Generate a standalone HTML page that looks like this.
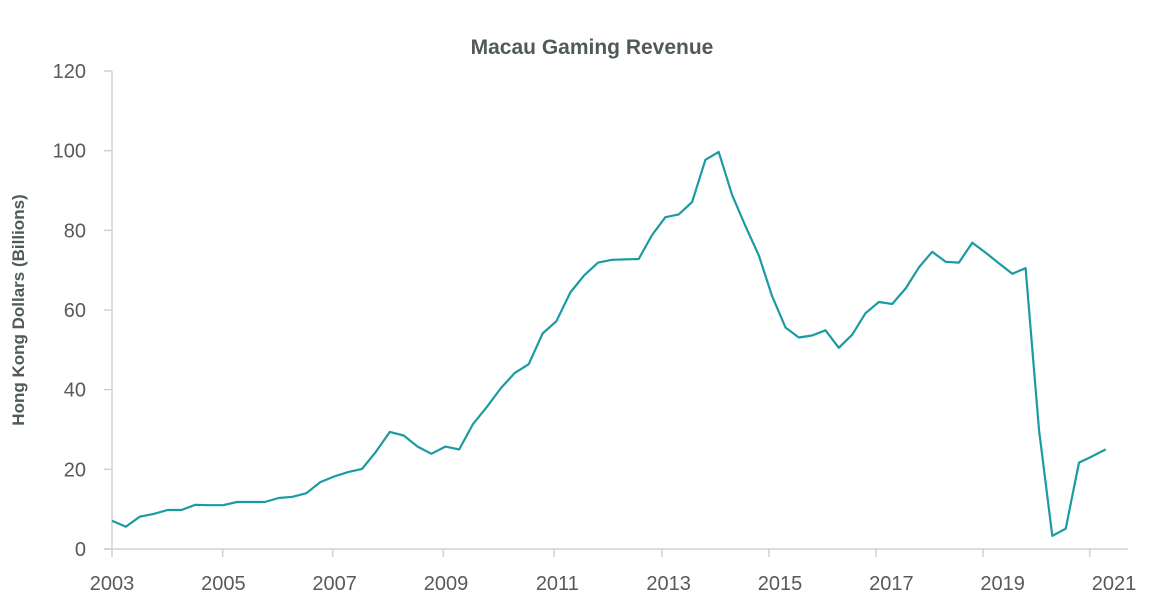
<!DOCTYPE html>
<html><head><meta charset="utf-8"><style>
body{margin:0;background:#fff;}
svg{display:block;font-family:"Liberation Sans",sans-serif;}
</style></head><body>
<svg id="chart" width="1164" height="613" viewBox="0 0 1164 613">
<text x="592" y="54" text-anchor="middle" font-size="21" font-weight="bold" fill="#505a56">Macau Gaming Revenue</text>
<text transform="translate(24,310) rotate(-90)" text-anchor="middle" font-size="17" font-weight="bold" fill="#505a56">Hong Kong Dollars (Billions)</text>
<g id="axes"></g>
<g id="plot"></g>
</svg>
<script>
const values=[7.1,5.6,8.1,8.8,9.8,9.8,11.1,11.0,11.0,11.8,11.8,11.8,12.8,13.1,14.0,16.8,18.2,19.3,20.1,24.4,29.4,28.5,25.7,23.9,25.7,25.0,31.4,35.7,40.4,44.2,46.4,54.1,57.2,64.4,68.7,71.9,72.6,
72.7,72.8,78.8,83.3,84.0,87.1,97.7,99.7,88.9,81.1,73.7,63.5,55.6,53.1,53.6,54.9,50.5,53.8,59.2,62.0,61.5,65.4,70.7,74.6,72.1,71.9,76.9,74.4,71.7,69.1,70.5,29.9,3.3,5.1,21.7,23.3,25.0];
const yTicks=[0,20,40,60,80,100,120];
const xLabels=["2003","2005","2007","2009","2011","2013","2015","2017","2019","2021"];
const NS="http://www.w3.org/2000/svg";
const y0=549,yTop=71;
function y(v){return y0-(v/120)*(y0-yTop);}
function x(i){return i<=36?112+i*(612-112)/36:612+(i-36)*(1105.7-612)/37;}
function xYear(k){return 112+k*(1114-112)/(xLabels.length-1);}
const tickPx=[112,222.7,332.7,443.3,554,662,769,876,983,1089.7];
const axes=document.getElementById('axes');
function mk(tag,attrs,parent){const e=document.createElementNS(NS,tag);for(const k in attrs)e.setAttribute(k,attrs[k]);parent.appendChild(e);return e;}
let l=mk('line',{x1:112,y1:yTop,x2:112,y2:y0,stroke:'#d0d0d0','stroke-width':1.5},axes);


l=mk('line',{x1:104,y1:y0,x2:1128,y2:y0,stroke:'#d0d0d0','stroke-width':1.5},axes);


yTicks.forEach(v=>{
  const t=mk('line',{x1:104,y1:y(v),x2:112,y2:y(v),stroke:'#d0d0d0','stroke-width':1.5},axes);
  
  
  const tx=mk('text',{x:86,y:y(v)+7,'text-anchor':'end','font-size':20,fill:'#595959'},axes);
  tx.textContent=v;
  
  
});
xLabels.forEach((s,k)=>{
  const t=mk('line',{x1:tickPx[k],y1:y0,x2:tickPx[k],y2:y0+8,stroke:'#d0d0d0','stroke-width':1.5},axes);
  
  
  const tx=mk('text',{x:xYear(k),y:590,'text-anchor':'middle','font-size':20,fill:'#595959'},axes);
  tx.textContent=s;
  
  
});
const pts=values.map((v,i)=>x(i).toFixed(1)+','+y(v).toFixed(1)).join(' ');
const line=mk('polyline',{points:pts,fill:'none',stroke:'#1a9ba1','stroke-width':2.2,'stroke-linejoin':'round'},document.getElementById('plot'));


</script>
</body></html>
